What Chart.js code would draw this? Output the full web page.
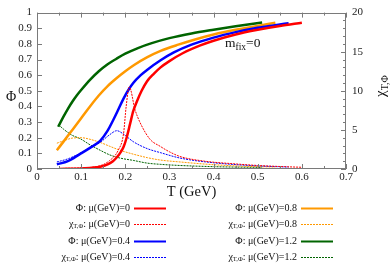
<!DOCTYPE html>
<html><head><meta charset="utf-8">
<script src="https://cdn.jsdelivr.net/npm/chart.js@4/dist/chart.umd.min.js"></script>
<style>html,body{margin:0;padding:0;background:#fff}#wrap{width:390px;height:273px;position:relative}</style>
</head><body><div id="wrap"><canvas id="c" width="390" height="273"></canvas></div>
<script>
// ---- data ----
const tPhiMu0 = [0.05,0.1,0.143,0.16,0.172,0.181,0.19,0.196,0.203,0.211,0.218,0.226,0.237,0.249,0.265,0.28,0.3,0.33,0.37,0.4,0.45,0.5,0.55,0.6];
const phiMu0  = [0,0.004,0.015,0.03,0.05,0.075,0.11,0.14,0.2,0.29,0.37,0.43,0.5,0.56,0.61,0.65,0.69,0.74,0.79,0.82,0.86,0.89,0.915,0.935];
const tChiMu0 = [0.05,0.1,0.135,0.165,0.184,0.196,0.202,0.209,0.222,0.233,0.256,0.279,0.3,0.324,0.38,0.45,0.5,0.55,0.6];
const chiMu0  = [0.05,0.15,0.3,1.1,2.4,4.5,8.0,10.5,7.6,6.0,3.8,2.9,2.2,1.6,1.0,0.65,0.45,0.32,0.22];

const tPhiMu04 = [0.045,0.07,0.097,0.12,0.143,0.16,0.173,0.185,0.196,0.207,0.218,0.235,0.25,0.28,0.31,0.35,0.4,0.45,0.5,0.57];
const phiMu04  = [0.03,0.05,0.095,0.135,0.18,0.245,0.315,0.385,0.45,0.505,0.55,0.6,0.635,0.695,0.745,0.795,0.84,0.875,0.903,0.932];
const tChiMu04 = [0.045,0.07,0.097,0.12,0.143,0.165,0.181,0.195,0.218,0.25,0.279,0.324,0.4,0.5,0.57];
const chiMu04  = [0.9,1.3,2.0,2.7,3.4,4.4,4.9,4.5,3.5,2.6,2.1,1.4,0.8,0.4,0.25];

const tPhiMu08 = [0.045,0.06,0.08,0.1,0.12,0.14,0.16,0.18,0.2,0.22,0.25,0.28,0.32,0.36,0.4,0.45,0.5,0.54];
const phiMu08  = [0.12,0.175,0.25,0.325,0.4,0.47,0.53,0.58,0.625,0.665,0.715,0.755,0.795,0.83,0.86,0.89,0.915,0.935];
const tChiMu08 = [0.045,0.06,0.08,0.1,0.12,0.143,0.165,0.188,0.218,0.25,0.279,0.324,0.4,0.47,0.54];
const chiMu08  = [3.3,3.6,3.95,4.0,3.8,3.4,2.9,2.4,1.9,1.45,1.15,0.9,0.55,0.35,0.25];

const tPhiMu12 = [0.048,0.06,0.07,0.08,0.09,0.1,0.12,0.14,0.16,0.18,0.2,0.23,0.26,0.3,0.35,0.4,0.45,0.51];
const phiMu12  = [0.27,0.335,0.385,0.43,0.47,0.505,0.57,0.625,0.67,0.705,0.737,0.775,0.805,0.837,0.867,0.891,0.913,0.937];
const tChiMu12 = [0.048,0.06,0.08,0.097,0.12,0.143,0.165,0.188,0.218,0.25,0.279,0.324,0.4,0.51];
const chiMu12  = [5.7,5.1,4.3,3.9,3.1,2.4,1.8,1.4,1.1,0.75,0.6,0.45,0.3,0.2];

const legendLabels = [
  "Φ: μ(GeV)=0", "χ_T,Φ: μ(GeV)=0", "Φ: μ(GeV)=0.4", "χ_T,Φ: μ(GeV)=0.4",
  "Φ: μ(GeV)=0.8", "χ_T,Φ: μ(GeV)=0.8", "Φ: μ(GeV)=1.2", "χ_T,Φ: μ(GeV)=1.2"
];
const xTickValues = [0,0.1,0.2,0.3,0.4,0.5,0.6,0.7];
const yTickValues = [0,0.1,0.2,0.3,0.4,0.5,0.6,0.7,0.8,0.9,1];
const y2TickValues = [0,5,10,15,20];

// ---- styles ----
const RED='#ff0000', BLUE='#0000ff', ORANGE='#ff9900', GREEN='#006400';
const SERIF = "'Liberation Serif','Times New Roman',serif";
const pts = (xs, ys) => xs.map((x,i)=>({x, y: ys[i]}));
function phiSet(label, t, v, c){ return {label, data:pts(t,v), yAxisID:'y', borderColor:c, backgroundColor:c, borderWidth:2.5, pointRadius:0, cubicInterpolationMode:'monotone', fill:false}; }
function chiSet(label, t, v, c){ return {label, data:pts(t,v), yAxisID:'y2', borderColor:c, backgroundColor:c, borderWidth:1, borderDash:[2,1], pointRadius:0, cubicInterpolationMode:'monotone', fill:false}; }

const datasets = [
  phiSet(legendLabels[0], tPhiMu0, phiMu0, RED),
  chiSet(legendLabels[1], tChiMu0, chiMu0, RED),
  phiSet(legendLabels[2], tPhiMu04, phiMu04, BLUE),
  chiSet(legendLabels[3], tChiMu04, chiMu04, BLUE),
  phiSet(legendLabels[4], tPhiMu08, phiMu08, ORANGE),
  chiSet(legendLabels[5], tChiMu08, chiMu08, ORANGE),
  phiSet(legendLabels[6], tPhiMu12, phiMu12, GREEN),
  chiSet(legendLabels[7], tChiMu12, chiMu12, GREEN)
];

function parseRich(s){
  const m = s.match(/^(.*?)_(.*?)(:.*)$/);
  if(!m) return [{t:s}];
  return [{t:m[1]},{t:m[2],sub:true},{t:m[3]}];
}
function richWidth(ctx, parts, size, subSize){
  let w=0; for(const p of parts){ ctx.font = (p.sub?subSize:size)+'px '+SERIF; w+=ctx.measureText(p.t).width; } return w;
}
function drawRich(ctx, parts, x, y, size, subSize, subDrop){
  let cx=x; for(const p of parts){ ctx.font=(p.sub?subSize:size)+'px '+SERIF; ctx.fillText(p.t, cx, y+(p.sub?subDrop:0)); cx+=ctx.measureText(p.t).width; }
}

const decorPlugin = {
  id:'decor',
  afterDatasetsDraw(chart){
    const {ctx, chartArea:a, scales} = chart;
    const x=scales.x, y=scales.y, y2=scales.y2;
    ctx.save();
    ctx.strokeStyle='#7a7a7a'; ctx.lineWidth=1;
    const ln=(x1,y1,x2,y2_)=>{ctx.beginPath();ctx.moveTo(x1,y1);ctx.lineTo(x2,y2_);ctx.stroke();};
    for(let i=0;i<=14;i++){
      const px=Math.round(x.getPixelForValue(i*0.05))+0.5;
      const L=(i%2===0)?5:3;
      ln(px,a.bottom,px,a.bottom-L); ln(px,a.top,px,a.top+L);
    }
    for(let i=0;i<=10;i++){
      const py=Math.round(y.getPixelForValue(i*0.1))+0.5;
      ln(a.left,py,a.left+5,py);
    }
    for(let i=0;i<=20;i++){
      const py=Math.round(y2.getPixelForValue(i))+0.5;
      ln(a.right,py,a.right-((i%5===0)?5:3),py);
    }
    ctx.strokeRect(Math.round(a.left)+0.5, Math.round(a.top)+0.5, Math.round(a.right-a.left)-1, Math.round(a.bottom-a.top)-1);
    ctx.restore();
  },
  afterDraw(chart){
    const {ctx, chartArea:a} = chart;
    ctx.save();
    ctx.fillStyle='#111';
    ctx.textBaseline='middle';
    ctx.textAlign='center';
    ctx.font='14.5px '+SERIF;
    ctx.fillText('T (GeV)', (a.left+a.right)/2, 192);
    ctx.font='14px '+SERIF;
    ctx.fillText('Φ', 11, 97);
    ctx.save();
    ctx.translate(381, 86);
    ctx.rotate(-Math.PI/2);
    ctx.textAlign='left';
    const rp=[{t:'χ'},{t:'T,Φ',sub:true}];
    const rw=richWidth(ctx, rp, 15, 10);
    drawRich(ctx, rp, -rw/2, 0, 15, 10, 4);
    ctx.restore();
    ctx.textAlign='left'; ctx.textBaseline='alphabetic';
    drawRich(ctx, [{t:'m'},{t:'fix',sub:true},{t:'=0'}], 225, 47, 13.5, 9.5, 2.5);
    ctx.textBaseline='middle';
    const rowsY=[208,224,241,257];
    const cols=[{textRight:130,l0:134,l1:166},{textRight:297,l0:301,l1:333}];
    chart.data.datasets.forEach((ds,i)=>{
      const col=cols[Math.floor(i/4)], yy=rowsY[i%4];
      const parts=parseRich(ds.label);
      const w=richWidth(ctx, parts, 10, 6.5);
      ctx.fillStyle='#111';
      drawRich(ctx, parts, col.textRight-w, yy, 10, 6.5, 2.5);
      ctx.strokeStyle=ds.borderColor;
      ctx.lineWidth=ds.borderWidth===1?1:2;
      ctx.setLineDash(ds.borderDash||[]);
      ctx.beginPath(); ctx.moveTo(col.l0, yy+0.5); ctx.lineTo(col.l1, yy+0.5); ctx.stroke();
      ctx.setLineDash([]);
    });
    ctx.restore();
  }
};

const tickFont = {family:SERIF, size:11};
new Chart(document.getElementById('c'), {
  type:'line',
  data:{datasets},
  options:{
    responsive:false, animation:false, devicePixelRatio:1,
    layout:{padding:{top:10,left:0,right:0,bottom:0}},
    plugins:{legend:{display:false}, tooltip:{enabled:false}},
    scales:{
      x:{type:'linear', min:0, max:0.7,
        afterBuildTicks:(s)=>{s.ticks=xTickValues.map(v=>({value:v}));},
        ticks:{font:tickFont, color:'#222', padding:2, maxRotation:0, autoSkip:false, callback:(v)=>String(Math.round(v*10)/10)},
        grid:{display:false, drawTicks:false}, border:{display:false},
        afterFit:(s)=>{s.height=104;}
      },
      y:{position:'left', min:0, max:1,
        afterBuildTicks:(s)=>{s.ticks=yTickValues.map(v=>({value:v}));},
        ticks:{font:tickFont, color:'#222', padding:5, autoSkip:false, callback:(v)=>String(Math.round(v*10)/10)},
        grid:{display:false, drawTicks:false}, border:{display:false},
        afterFit:(s)=>{s.width=37;}
      },
      y2:{position:'right', min:0, max:20,
        afterBuildTicks:(s)=>{s.ticks=y2TickValues.map(v=>({value:v}));},
        ticks:{font:tickFont, color:'#222', padding:6, autoSkip:false},
        grid:{display:false, drawTicks:false}, border:{display:false},
        afterFit:(s)=>{s.width=44;}
      }
    }
  },
  plugins:[decorPlugin]
});
</script></body></html>
